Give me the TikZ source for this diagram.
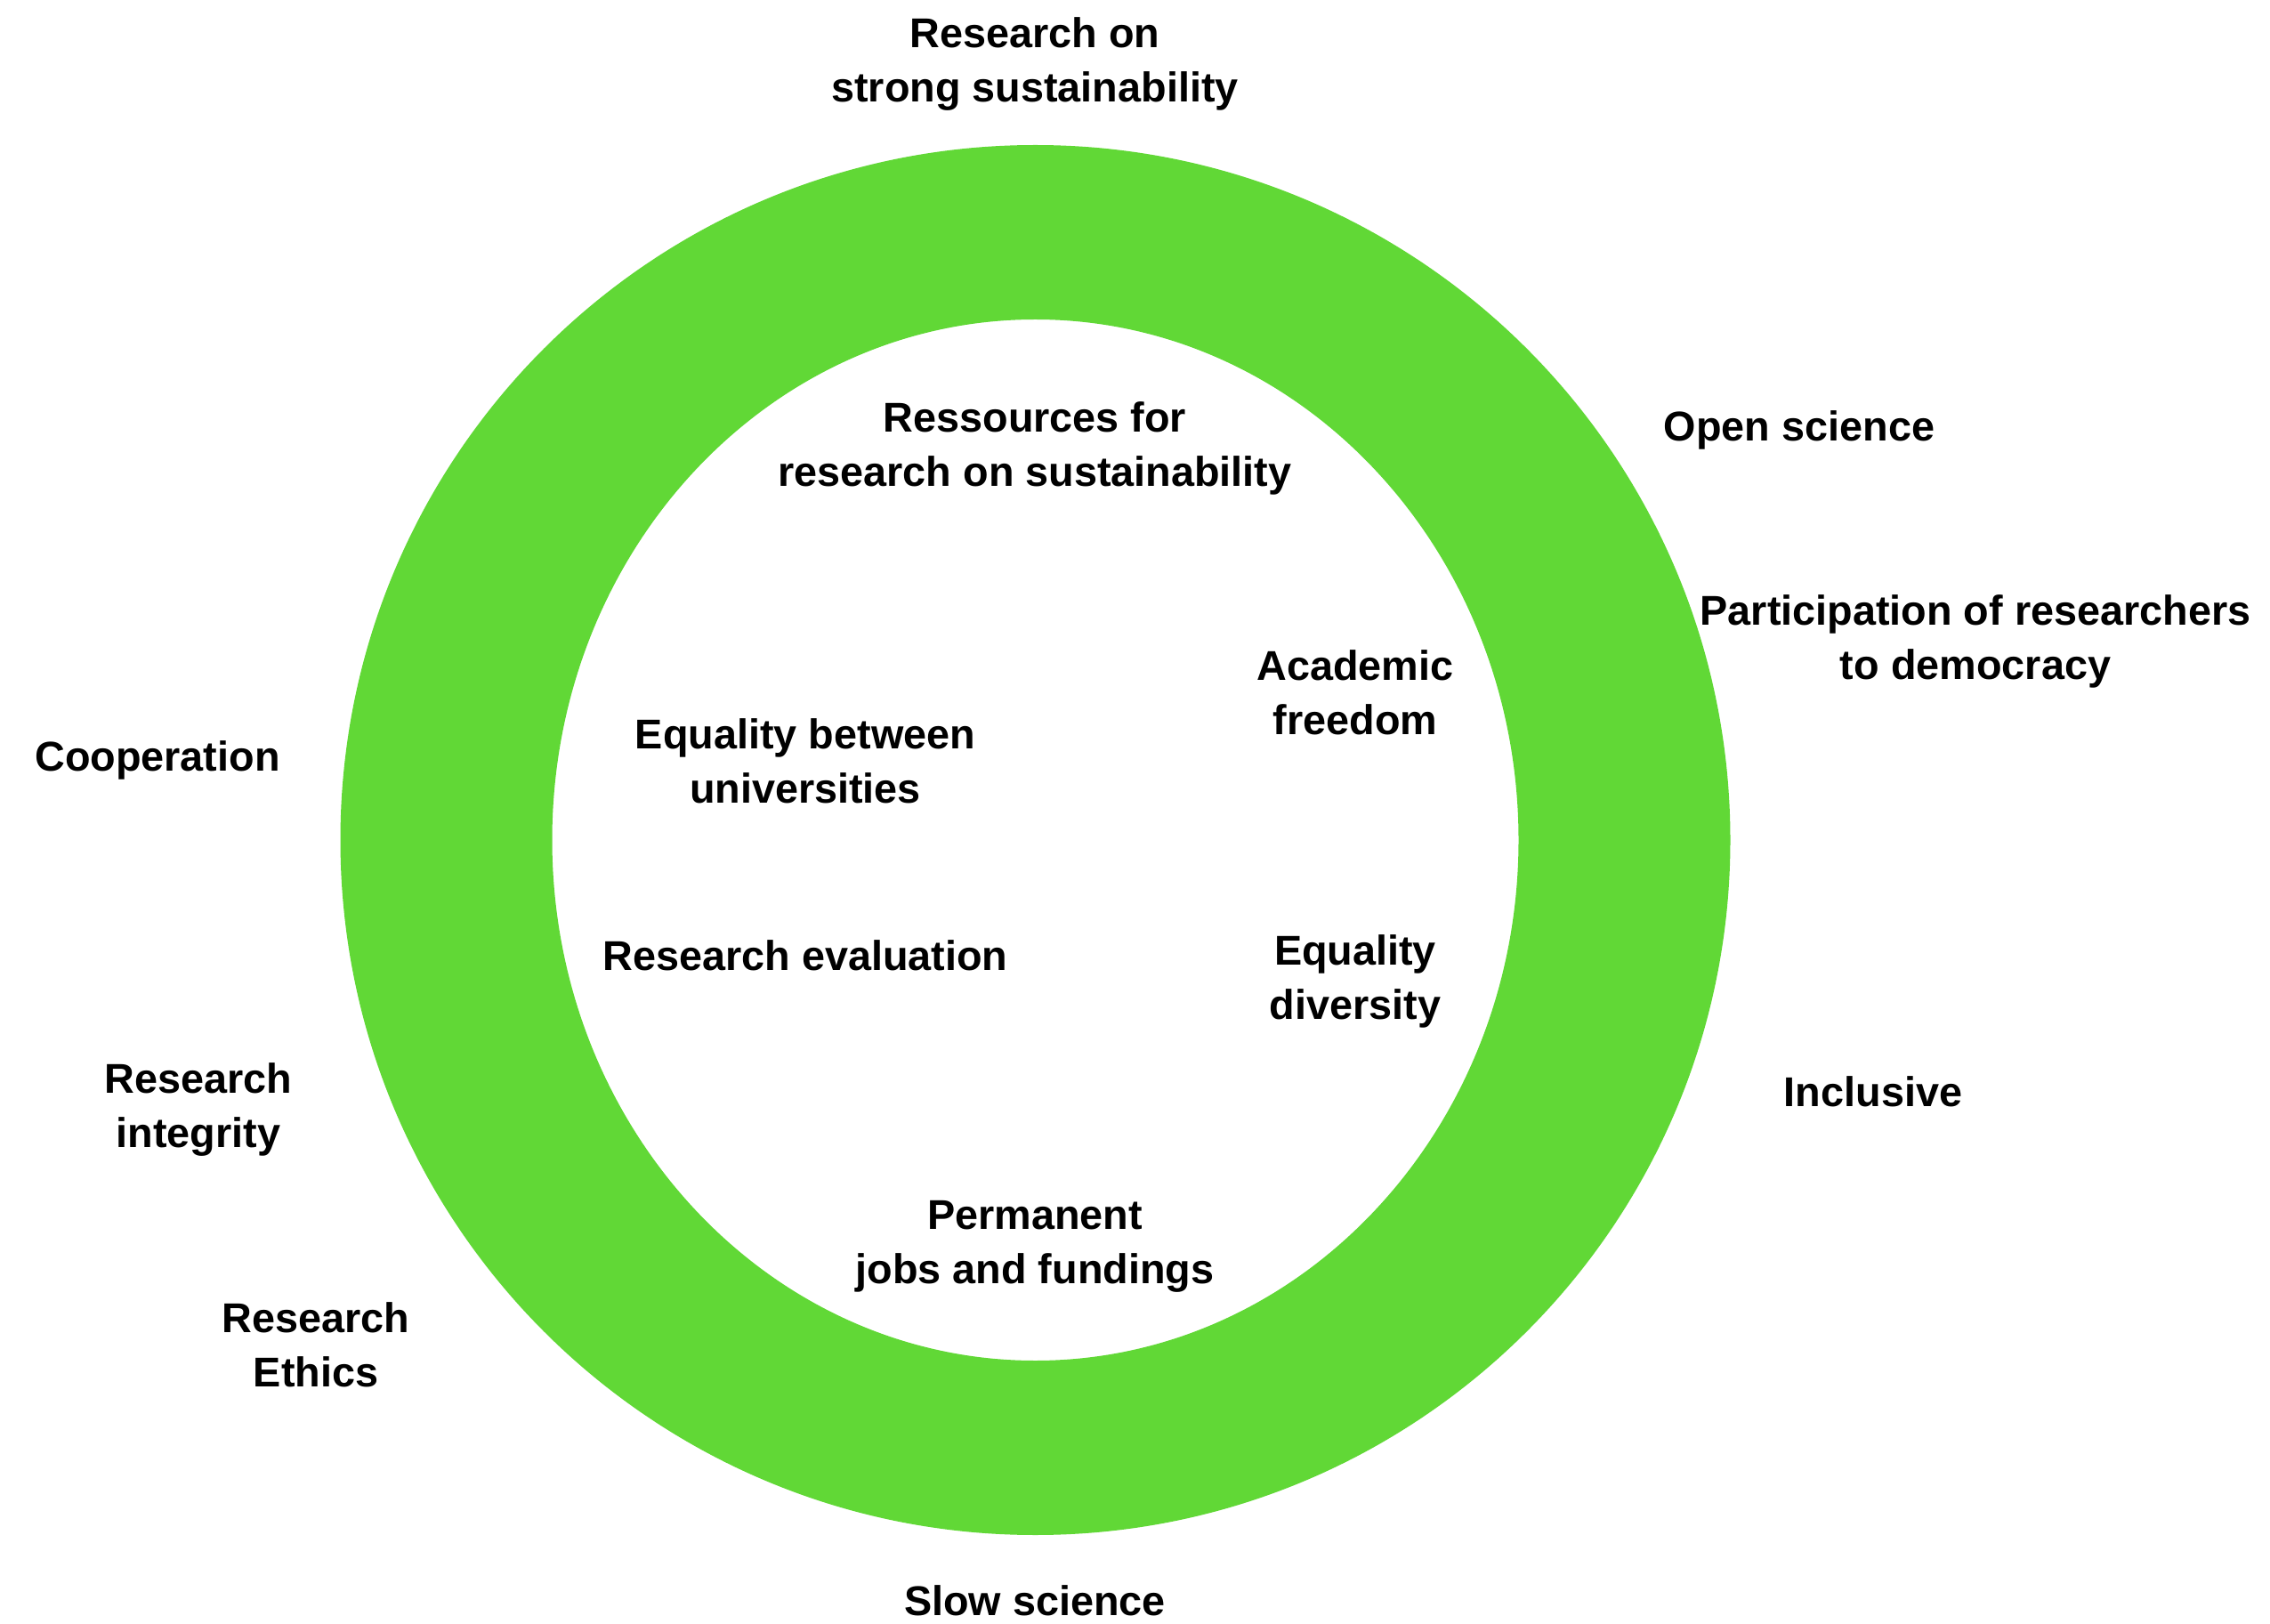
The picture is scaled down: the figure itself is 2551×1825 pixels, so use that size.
\documentclass[tikz,border=0pt]{standalone}
\usepackage{fontspec}
\setmainfont{Liberation Sans}
\usetikzlibrary{positioning}
\definecolor{ringgreen}{RGB}{97,216,54}

\begin{document}
\begin{tikzpicture}[x=.01cm, y=-.01cm, font=\bfseries\fontsize{13.3pt}{17.3pt}\selectfont,
  lbl/.style={align=center, inner sep=0pt}]
\useasboundingbox (0,0) rectangle (2551,1825);
\fill[white] (0,0) rectangle (2551,1825);
% the ring
\coordinate (c) at (1163.5,944);
\fill[ringgreen, even odd rule] (c) circle (781) (c) ellipse (543 and 585);
%
% outside the ring
\node[lbl] (strong) at (1163,72) {Research on\\strong sustainability};
\node[lbl] (open) at (2022,483) {Open science};
\node[lbl] (democracy) at (2220,721) {Participation of researchers\\to democracy};
\node[lbl] (inclusive) at (2105,1227) {Inclusive};
\node[lbl] (slow) at (1163,1799) {Slow science};
\node[lbl] (coop) at (177,854) {Cooperation};
\node[lbl] (integrity) at (223,1247) {Research\\integrity};
\node[lbl] (ethics) at (355,1511) {Research\\Ethics};
%
% inside the ring
\node[lbl] (ressources) at (1163,504) {Ressources for\\research on sustainability};
\node[lbl] (freedom) at (1523,778) {Academic\\freedom};
\node[lbl] (universities) at (905,855) {Equality between\\universities};
\node[lbl] (evaluation) at (905,1074) {Research evaluation};
\node[lbl] (diversity) at (1523,1103) {Equality\\diversity};
\node[lbl] (jobs) at (1163,1401) {Permanent\\jobs and fundings};
\end{tikzpicture}
\end{document}
